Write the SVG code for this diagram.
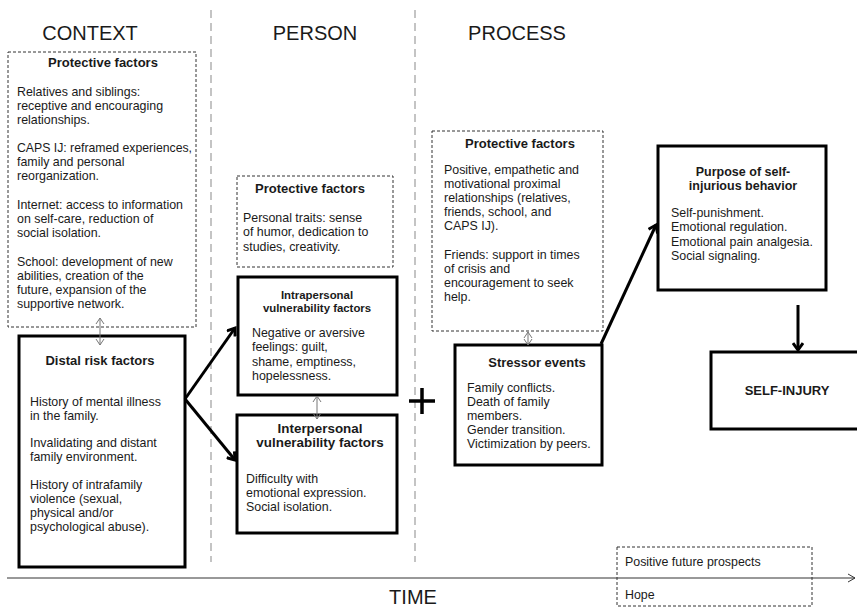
<svg xmlns="http://www.w3.org/2000/svg" width="857" height="608" viewBox="0 0 857 608">
<style>
text{font-family:"Liberation Sans",Arial,sans-serif;fill:#1a1a1a}
.hd{font-size:20px;text-anchor:middle}
.t{font-size:13px;font-weight:bold;text-anchor:middle}
.b{font-size:12.4px}
.dash{fill:#fff;stroke:#333;stroke-width:1;stroke-dasharray:3,2}
.solid{fill:#fff;stroke:#000;stroke-width:3}
.div{stroke:#c4c4c4;stroke-width:2;stroke-dasharray:8,5;fill:none}
.big{stroke:#000;stroke-width:3;fill:none;marker-end:url(#ah)}
.thin{stroke:#777;stroke-width:1;fill:none;marker-start:url(#sh);marker-end:url(#sh)}
</style>
<defs>
<marker id="ah" markerWidth="12" markerHeight="12" refX="9" refY="6" orient="auto" markerUnits="userSpaceOnUse">
<polyline points="2,1 9,6 2,11" fill="none" stroke="#000" stroke-width="3"/>
</marker>
<marker id="sh" markerWidth="10" markerHeight="10" refX="8" refY="5" orient="auto-start-reverse" markerUnits="userSpaceOnUse">
<polyline points="2,1 8,5 2,9" fill="none" stroke="#777" stroke-width="1"/>
</marker>
<marker id="ta" markerWidth="12" markerHeight="12" refX="10" refY="6" orient="auto" markerUnits="userSpaceOnUse">
<polyline points="3,2 10,6 3,10" fill="none" stroke="#333" stroke-width="1"/>
</marker>
</defs>
<rect width="857" height="608" fill="#fff"/>

<g id="dividers">
<line class="div" x1="211" y1="10" x2="211" y2="562"/>
<line class="div" x1="415" y1="10" x2="415" y2="562"/>
</g>

<g id="headers">
<text class="hd" x="90" y="40">CONTEXT</text>
<text class="hd" x="315" y="40">PERSON</text>
<text class="hd" x="517" y="40">PROCESS</text>
</g>

<g id="context-protective">
<rect class="dash" x="8" y="52" width="188" height="275"/>
<text class="t" x="103" y="67">Protective factors</text>
<text class="b" x="17" y="96">Relatives and siblings:</text>
<text class="b" x="17" y="110">receptive and encouraging</text>
<text class="b" x="17" y="124">relationships.</text>
<text class="b" x="17" y="152" textLength="175" lengthAdjust="spacingAndGlyphs">CAPS IJ: reframed experiences,</text>
<text class="b" x="17" y="166">family and personal</text>
<text class="b" x="17" y="180">reorganization.</text>
<text class="b" x="17" y="209">Internet: access to information</text>
<text class="b" x="17" y="223">on self-care, reduction of</text>
<text class="b" x="17" y="237">social isolation.</text>
<text class="b" x="17" y="266">School: development of new</text>
<text class="b" x="17" y="280">abilities, creation of the</text>
<text class="b" x="17" y="294">future, expansion of the</text>
<text class="b" x="17" y="308">supportive network.</text>
</g>

<g id="distal">
<rect class="solid" x="19" y="336" width="166" height="231"/>
<text class="t" x="100" y="365">Distal risk factors</text>
<text class="b" x="30" y="406">History of mental illness</text>
<text class="b" x="30" y="420">in the family.</text>
<text class="b" x="30" y="447">Invalidating and distant</text>
<text class="b" x="30" y="461">family environment.</text>
<text class="b" x="30" y="489">History of intrafamily</text>
<text class="b" x="30" y="503">violence (sexual,</text>
<text class="b" x="30" y="517">physical and/or</text>
<text class="b" x="30" y="531">psychological abuse).</text>
</g>

<g id="person-protective">
<rect class="dash" x="237" y="176" width="156" height="91"/>
<text class="t" x="310" y="193">Protective factors</text>
<text class="b" x="243" y="222">Personal traits: sense</text>
<text class="b" x="243" y="236">of humor, dedication to</text>
<text class="b" x="243" y="251">studies, creativity.</text>
</g>

<g id="intrapersonal">
<rect class="solid" x="238" y="277" width="159" height="118"/>
<text class="t" x="317" y="299" style="font-size:11.4px">Intrapersonal</text>
<text class="t" x="317" y="312" style="font-size:11.4px">vulnerability factors</text>
<text class="b" x="252" y="337">Negative or aversive</text>
<text class="b" x="252" y="351">feelings: guilt,</text>
<text class="b" x="252" y="366">shame, emptiness,</text>
<text class="b" x="252" y="380">hopelessness.</text>
</g>

<g id="interpersonal">
<rect class="solid" x="237" y="415" width="160" height="118"/>
<text class="t" x="320" y="433" style="font-size:13.4px">Interpersonal</text>
<text class="t" x="320" y="447" style="font-size:13.4px">vulnerability factors</text>
<text class="b" x="246" y="483">Difficulty with</text>
<text class="b" x="246" y="497">emotional expression.</text>
<text class="b" x="246" y="511">Social isolation.</text>
</g>

<g id="plus">
<line x1="409" y1="401" x2="435" y2="401" stroke="#000" stroke-width="3.5"/>
<line x1="422" y1="388" x2="422" y2="414" stroke="#000" stroke-width="3.5"/>
</g>

<g id="process-protective">
<rect class="dash" x="432" y="131" width="171" height="200"/>
<text class="t" x="520" y="148">Protective factors</text>
<text class="b" x="444" y="174">Positive, empathetic and</text>
<text class="b" x="444" y="188">motivational proximal</text>
<text class="b" x="444" y="202">relationships (relatives,</text>
<text class="b" x="444" y="216">friends, school, and</text>
<text class="b" x="444" y="230">CAPS IJ).</text>
<text class="b" x="444" y="259">Friends: support in times</text>
<text class="b" x="444" y="273">of crisis and</text>
<text class="b" x="444" y="287">encouragement  to seek</text>
<text class="b" x="444" y="301">help.</text>
</g>

<g id="stressor">
<rect class="solid" x="455" y="345" width="147" height="120"/>
<text class="t" x="537" y="367">Stressor events</text>
<text class="b" x="467" y="392">Family conflicts.</text>
<text class="b" x="467" y="406">Death of family</text>
<text class="b" x="467" y="420">members.</text>
<text class="b" x="467" y="434">Gender transition.</text>
<text class="b" x="467" y="448">Victimization by peers.</text>
</g>

<g id="purpose">
<rect class="solid" x="658" y="146" width="168" height="144"/>
<text class="t" x="743" y="176" style="font-size:12.5px">Purpose of self-</text>
<text class="t" x="743" y="190" style="font-size:12.5px">injurious behavior</text>
<text class="b" x="671" y="217">Self-punishment.</text>
<text class="b" x="671" y="231">Emotional regulation.</text>
<text class="b" x="671" y="246">Emotional pain analgesia.</text>
<text class="b" x="671" y="260">Social signaling.</text>
</g>

<g id="self-injury">
<rect class="solid" x="711" y="352" width="160" height="77"/>
<text class="t" x="787" y="395">SELF-INJURY</text>
</g>

<g id="future">
<rect class="dash" x="617" y="547" width="195" height="59"/>
<text class="b" x="625" y="566">Positive future prospects</text>
<text class="b" x="625" y="599">Hope</text>
</g>

<g id="connectors">
<line class="thin" x1="100" y1="318" x2="100" y2="345"/>
<line class="thin" x1="317" y1="396" x2="317" y2="419"/>
<line class="thin" x1="528" y1="332" x2="528" y2="345"/>
<line class="big" x1="185" y1="399" x2="235" y2="328"/>
<line class="big" x1="185" y1="399" x2="235" y2="460"/>
<line class="big" x1="601" y1="344" x2="656" y2="225"/>
<line class="big" x1="798" y1="305" x2="798" y2="350"/>
<line x1="7" y1="578" x2="855" y2="578" stroke="#333" stroke-width="1" marker-end="url(#ta)"/>
</g>

<g id="time">
<text class="hd" x="413" y="604">TIME</text>
</g>
</svg>
